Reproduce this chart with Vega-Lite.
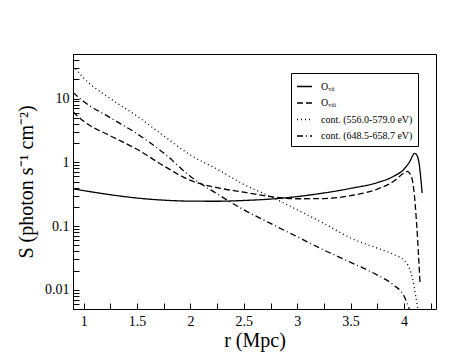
{
  "$schema": "https://vega.github.io/schema/vega-lite/v6.json",
  "width": 363,
  "height": 255,
  "autosize": "none",
  "padding": {"left": 73, "top": 54, "right": 35, "bottom": 55},
  "background": "white",
  "config": {
    "view": {"stroke": "black", "strokeWidth": 1},
    "font": "Liberation Serif",
    "axis": {
      "grid": false,
      "domainColor": "black",
      "tickColor": "black",
      "labelColor": "black",
      "titleColor": "black",
      "labelFontSize": 14,
      "titleFontSize": 20,
      "titleFontWeight": "normal"
    }
  },
  "datasets": {
    "curves": [
      {"r": 0.9, "S": 0.385, "series": "Oᵥᵢᵢ"},
      {"r": 1.0, "S": 0.36, "series": "Oᵥᵢᵢ"},
      {"r": 1.25, "S": 0.31, "series": "Oᵥᵢᵢ"},
      {"r": 1.5, "S": 0.275, "series": "Oᵥᵢᵢ"},
      {"r": 1.75, "S": 0.255, "series": "Oᵥᵢᵢ"},
      {"r": 2.0, "S": 0.246, "series": "Oᵥᵢᵢ"},
      {"r": 2.25, "S": 0.245, "series": "Oᵥᵢᵢ"},
      {"r": 2.5, "S": 0.252, "series": "Oᵥᵢᵢ"},
      {"r": 2.75, "S": 0.265, "series": "Oᵥᵢᵢ"},
      {"r": 3.0, "S": 0.29, "series": "Oᵥᵢᵢ"},
      {"r": 3.25, "S": 0.33, "series": "Oᵥᵢᵢ"},
      {"r": 3.5, "S": 0.39, "series": "Oᵥᵢᵢ"},
      {"r": 3.75, "S": 0.48, "series": "Oᵥᵢᵢ"},
      {"r": 3.9, "S": 0.6, "series": "Oᵥᵢᵢ"},
      {"r": 4.0, "S": 0.78, "series": "Oᵥᵢᵢ"},
      {"r": 4.05, "S": 1.0, "series": "Oᵥᵢᵢ"},
      {"r": 4.1, "S": 1.38, "series": "Oᵥᵢᵢ"},
      {"r": 4.12, "S": 1.3, "series": "Oᵥᵢᵢ"},
      {"r": 4.14, "S": 1.0, "series": "Oᵥᵢᵢ"},
      {"r": 4.17, "S": 0.33, "series": "Oᵥᵢᵢ"},

      {"r": 0.9, "S": 6.2, "series": "Oᵥᵢᵢᵢ"},
      {"r": 1.0, "S": 4.4, "series": "Oᵥᵢᵢᵢ"},
      {"r": 1.25, "S": 2.6, "series": "Oᵥᵢᵢᵢ"},
      {"r": 1.5, "S": 1.6, "series": "Oᵥᵢᵢᵢ"},
      {"r": 1.75, "S": 0.88, "series": "Oᵥᵢᵢᵢ"},
      {"r": 2.0, "S": 0.52, "series": "Oᵥᵢᵢᵢ"},
      {"r": 2.25, "S": 0.4, "series": "Oᵥᵢᵢᵢ"},
      {"r": 2.5, "S": 0.34, "series": "Oᵥᵢᵢᵢ"},
      {"r": 2.75, "S": 0.29, "series": "Oᵥᵢᵢᵢ"},
      {"r": 3.0, "S": 0.268, "series": "Oᵥᵢᵢᵢ"},
      {"r": 3.25, "S": 0.27, "series": "Oᵥᵢᵢᵢ"},
      {"r": 3.5, "S": 0.3, "series": "Oᵥᵢᵢᵢ"},
      {"r": 3.75, "S": 0.38, "series": "Oᵥᵢᵢᵢ"},
      {"r": 3.9, "S": 0.5, "series": "Oᵥᵢᵢᵢ"},
      {"r": 4.0, "S": 0.68, "series": "Oᵥᵢᵢᵢ"},
      {"r": 4.03, "S": 0.72, "series": "Oᵥᵢᵢᵢ"},
      {"r": 4.06, "S": 0.65, "series": "Oᵥᵢᵢᵢ"},
      {"r": 4.09, "S": 0.4, "series": "Oᵥᵢᵢᵢ"},
      {"r": 4.12, "S": 0.1, "series": "Oᵥᵢᵢᵢ"},
      {"r": 4.15, "S": 0.013, "series": "Oᵥᵢᵢᵢ"},

      {"r": 0.9, "S": 33, "series": "cont. (556.0-579.0 eV)"},
      {"r": 1.0, "S": 21, "series": "cont. (556.0-579.0 eV)"},
      {"r": 1.25, "S": 10, "series": "cont. (556.0-579.0 eV)"},
      {"r": 1.5, "S": 5.3, "series": "cont. (556.0-579.0 eV)"},
      {"r": 1.75, "S": 2.6, "series": "cont. (556.0-579.0 eV)"},
      {"r": 2.0, "S": 1.3, "series": "cont. (556.0-579.0 eV)"},
      {"r": 2.25, "S": 0.78, "series": "cont. (556.0-579.0 eV)"},
      {"r": 2.5, "S": 0.45, "series": "cont. (556.0-579.0 eV)"},
      {"r": 2.75, "S": 0.29, "series": "cont. (556.0-579.0 eV)"},
      {"r": 3.0, "S": 0.18, "series": "cont. (556.0-579.0 eV)"},
      {"r": 3.25, "S": 0.11, "series": "cont. (556.0-579.0 eV)"},
      {"r": 3.5, "S": 0.065, "series": "cont. (556.0-579.0 eV)"},
      {"r": 3.75, "S": 0.045, "series": "cont. (556.0-579.0 eV)"},
      {"r": 3.9, "S": 0.036, "series": "cont. (556.0-579.0 eV)"},
      {"r": 4.0, "S": 0.029, "series": "cont. (556.0-579.0 eV)"},
      {"r": 4.05, "S": 0.022, "series": "cont. (556.0-579.0 eV)"},
      {"r": 4.08, "S": 0.015, "series": "cont. (556.0-579.0 eV)"},
      {"r": 4.11, "S": 0.008, "series": "cont. (556.0-579.0 eV)"},
      {"r": 4.13, "S": 0.005, "series": "cont. (556.0-579.0 eV)"},

      {"r": 0.9, "S": 12.5, "series": "cont. (648.5-658.7 eV)"},
      {"r": 1.0, "S": 9, "series": "cont. (648.5-658.7 eV)"},
      {"r": 1.25, "S": 5, "series": "cont. (648.5-658.7 eV)"},
      {"r": 1.5, "S": 2.8, "series": "cont. (648.5-658.7 eV)"},
      {"r": 1.75, "S": 1.4, "series": "cont. (648.5-658.7 eV)"},
      {"r": 2.0, "S": 0.6, "series": "cont. (648.5-658.7 eV)"},
      {"r": 2.25, "S": 0.32, "series": "cont. (648.5-658.7 eV)"},
      {"r": 2.5, "S": 0.18, "series": "cont. (648.5-658.7 eV)"},
      {"r": 2.75, "S": 0.11, "series": "cont. (648.5-658.7 eV)"},
      {"r": 3.0, "S": 0.068, "series": "cont. (648.5-658.7 eV)"},
      {"r": 3.25, "S": 0.042, "series": "cont. (648.5-658.7 eV)"},
      {"r": 3.5, "S": 0.027, "series": "cont. (648.5-658.7 eV)"},
      {"r": 3.75, "S": 0.017, "series": "cont. (648.5-658.7 eV)"},
      {"r": 3.9, "S": 0.012, "series": "cont. (648.5-658.7 eV)"},
      {"r": 4.0, "S": 0.008, "series": "cont. (648.5-658.7 eV)"},
      {"r": 4.05, "S": 0.005, "series": "cont. (648.5-658.7 eV)"}
    ]
  },
  "data": {"name": "curves"},
  "mark": {"type": "line", "color": "black", "strokeWidth": 1.3, "clip": true, "interpolate": "monotone"},
  "encoding": {
    "x": {
      "field": "r", "type": "quantitative",
      "scale": {"domain": [0.9, 4.3], "nice": false, "zero": false},
      "axis": {
        "orient": "bottom", "title": "r (Mpc)",
        "values": [1, 1.25, 1.5, 1.75, 2, 2.25, 2.5, 2.75, 3, 3.25, 3.5, 3.75, 4, 4.25],
        "format": ".2~f",
        "labelExpr": "(datum.value * 2) % 1 == 0 ? datum.label : ''",
        "ticks": true, "tickSize": -6, "domain": false,
        "labelFont": "Liberation Serif", "titleFont": "Liberation Serif",
        "labelPadding": 11, "titlePadding": 2
      }
    },
    "y": {
      "field": "S", "type": "quantitative",
      "scale": {"type": "log", "domain": [0.005, 50], "nice": false},
      "axis": {
        "orient": "left", "title": "S (photon s⁻¹ cm⁻²)",
        "values": [0.005, 0.006, 0.007, 0.008, 0.009, 0.01, 0.02, 0.03, 0.04, 0.05, 0.06, 0.07, 0.08, 0.09, 0.1, 0.2, 0.3, 0.4, 0.5, 0.6, 0.7, 0.8, 0.9, 1, 2, 3, 4, 5, 6, 7, 8, 9, 10, 20, 30, 40, 50],
        "labelExpr": "(datum.value == 0.01 || datum.value == 0.1 || datum.value == 1 || datum.value == 10) ? format(datum.value, '~g') : ''",
        "ticks": true, "tickSize": -6, "domain": false,
        "labelFont": "Liberation Serif", "titleFont": "Liberation Serif",
        "labelPadding": 10, "titlePadding": 8
      }
    },
    "strokeDash": {
      "field": "series", "type": "nominal",
      "scale": {
        "domain": ["Oᵥᵢᵢ", "Oᵥᵢᵢᵢ", "cont. (556.0-579.0 eV)", "cont. (648.5-658.7 eV)"],
        "range": [[1, 0], [6, 3], [1, 3], [6, 3, 1, 3]]
      },
      "legend": {
        "title": null, "orient": "none", "legendX": 218, "legendY": 19,
        "strokeColor": "black", "fillColor": "white", "padding": 5,
        "symbolType": "stroke", "symbolSize": 225, "symbolStrokeWidth": 1.3, "symbolStrokeColor": "black",
        "labelFont": "Liberation Serif",
        "labelFontSize": 10, "labelColor": "black", "rowPadding": 2.5, "labelOffset": 8
      }
    }
  }
}
